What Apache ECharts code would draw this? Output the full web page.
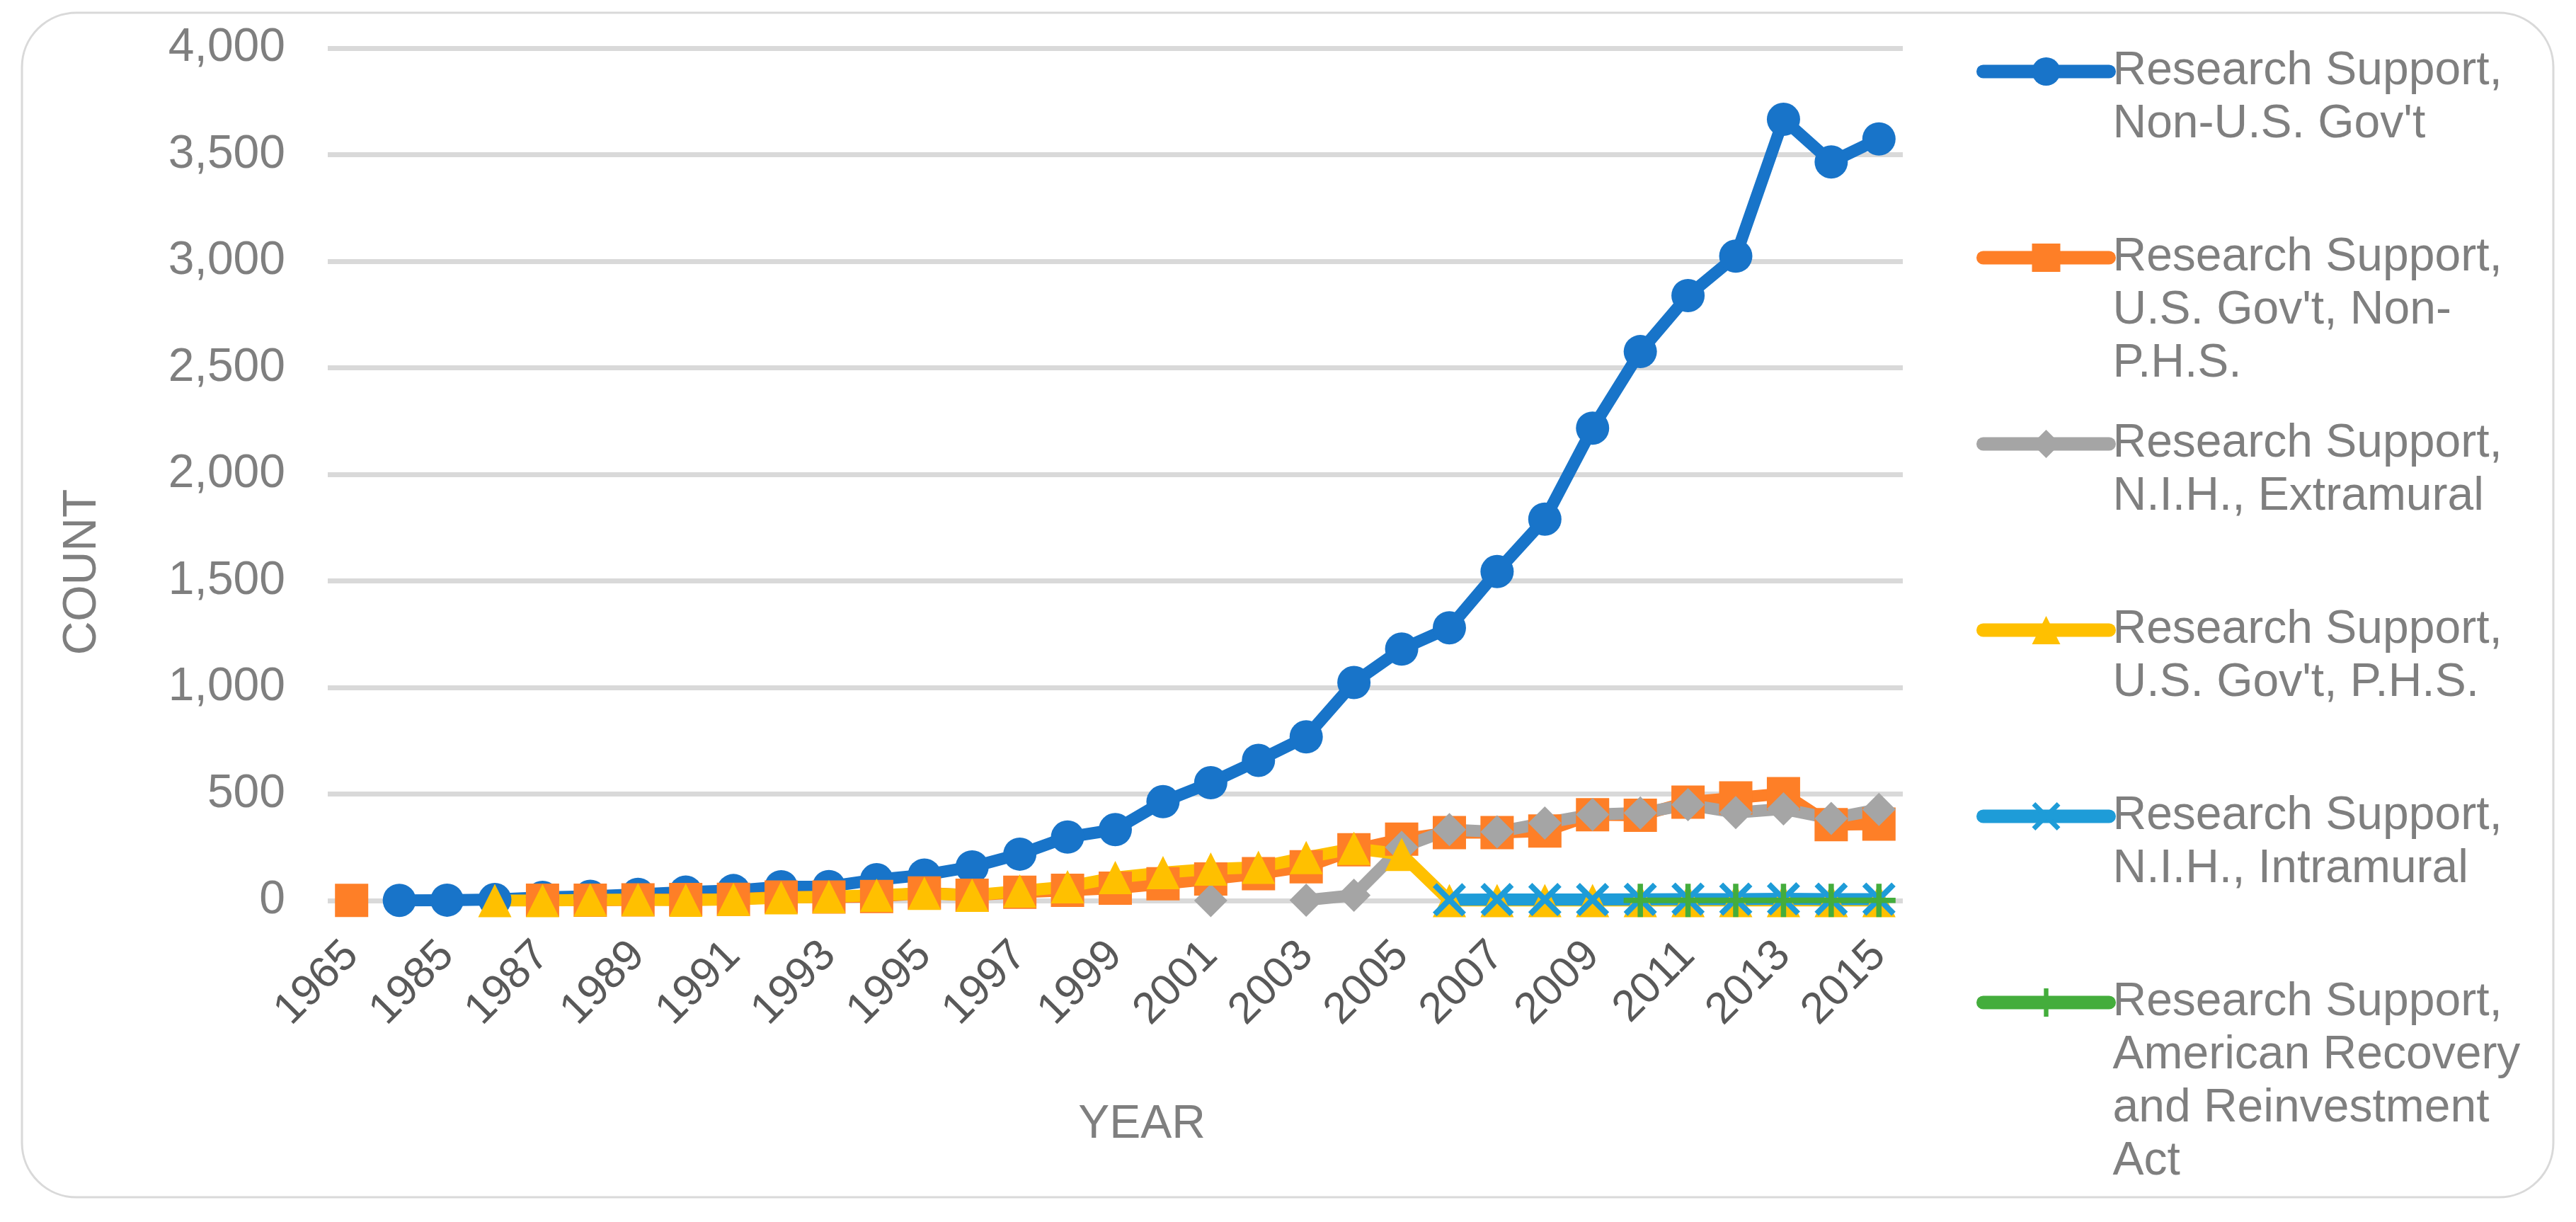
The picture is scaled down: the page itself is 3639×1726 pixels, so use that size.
<!DOCTYPE html>
<html>
<head>
<meta charset="utf-8">
<script src="https://cdn.jsdelivr.net/npm/echarts@6.0.0/dist/echarts.min.js"></script>
<style>
html,body{margin:0;padding:0;background:#fff;}
#chart{width:3639px;height:1726px;}
</style>
</head>
<body>
<div id="chart"></div>
<script>
// ---- data ----
const years = ['1965','1984','1985','1986','1987','1988','1989','1990','1991','1992','1993','1994','1995','1996','1997','1998','1999','2000','2001','2002','2003','2004','2005','2006','2007','2008','2009','2010','2011','2012','2013','2014','2015'];
const yTicks = [0, 500, 1000, 1500, 2000, 2500, 3000, 3500, 4000];
const nonUSGov = [null, 1, 2, 5, 15, 20, 29, 40, 47, 65, 66, 98, 120, 158, 218, 298, 333, 464, 553, 658, 768, 1023, 1180, 1280, 1544, 1790, 2217, 2576, 2839, 3024, 3666, 3466, 3574];
const usGovNonPHS = [1, null, null, null, 2, 2, 3, 5, 6, 17, 17, 19, 36, 25, 39, 48, 58, 79, 101, 126, 159, 238, 288, 319, 319, 326, 403, 400, 462, 482, 502, 356, 359];
const nihExtramural = [null, null, null, null, null, null, null, null, null, null, null, null, null, null, null, null, null, null, 0, null, 2, 25, 250, 333, 322, 364, 404, 411, 450, 413, 430, 385, 428];
const usGovPHS = [null, null, null, 0, 0, 3, 4, 2, 6, 13, 18, 25, 34, 25, 45, 65, 108, 131, 148, 156, 202, 245, 217, 0, 0, 0, 0, 0, 0, 0, 0, 0, 0];
const nihIntramural = [null, null, null, null, null, null, null, null, null, null, null, null, null, null, null, null, null, null, null, null, null, null, null, 4, 5, 5, 5, 6, 7, 7, 8, 7, 7];
const arra = [null, null, null, null, null, null, null, null, null, null, null, null, null, null, null, null, null, null, null, null, null, null, null, null, null, null, null, 1, 1, 1, 1, 1, 1];

const seriesNames = [
  "Research Support, Non-U.S. Gov't",
  "Research Support, U.S. Gov't, Non-P.H.S.",
  "Research Support, N.I.H., Extramural",
  "Research Support, U.S. Gov't, P.H.S.",
  "Research Support, N.I.H., Intramural",
  "Research Support, American Recovery and Reinvestment Act"
];
const legendLines = [
  ["Research Support,", "Non-U.S. Gov't"],
  ["Research Support,", "U.S. Gov't, Non-", "P.H.S."],
  ["Research Support,", "N.I.H., Extramural"],
  ["Research Support,", "U.S. Gov't, P.H.S."],
  ["Research Support,", "N.I.H., Intramural"],
  ["Research Support,", "American Recovery", "and Reinvestment", "Act"]
];
const seriesData = [nonUSGov, usGovNonPHS, nihExtramural, usGovPHS, nihIntramural, arra];

// ---- styles ----
const FONT = 'Liberation Sans, Arial, sans-serif';
const colors = ['#1874c9', '#fe7f27', '#a5a5a5', '#ffc000', '#1e9cd8', '#44ad3c'];
const xPath = 'path://M0,12 L12,0 L50,38 L88,0 L100,12 L62,50 L100,88 L88,100 L50,62 L12,100 L0,88 L38,50 Z';
const plusPath = 'path://M42,0 L58,0 L58,42 L100,42 L100,58 L58,58 L58,100 L42,100 L42,58 L0,58 L0,42 L42,42 Z';
const symbols = ['circle', 'rect', 'diamond', 'triangle', xPath, plusPath];
const lineWidths = [17, 17, 17, 17, 17, 8];

const series = seriesNames.map((name, i) => ({
  name: name,
  type: 'line',
  data: seriesData[i],
  symbol: symbols[i],
  symbolSize: 47,
  showAllSymbol: true,
  connectNulls: false,
  lineStyle: { width: lineWidths[i], color: colors[i], cap: 'round', join: 'round' },
  itemStyle: { color: colors[i], borderWidth: 0 },
  emphasis: { disabled: true },
  animation: false
}));

const LH = 75;
const legends = seriesNames.map((name, i) => {
  const n = legendLines[i].length;
  const iconY = 101 + 263 * i;
  const text = '\n'.repeat(n - 1) + legendLines[i].join('\n');
  return {
    data: [name],
    left: 2792,
    top: iconY - (2 * n - 1) * LH / 2,
    padding: 0,
    itemWidth: 178,
    itemHeight: 50,
    selectedMode: false,
    formatter: () => text,
    lineStyle: { width: 19, cap: 'round' },
    textStyle: { fontSize: 66, lineHeight: LH, color: '#7f7f7f', fontFamily: FONT }
  };
});

const chart = echarts.init(document.getElementById('chart'), null, { renderer: 'canvas' });
chart.setOption({
  animation: false,
  backgroundColor: '#ffffff',
  grid: { left: 463, right: 951, top: 68, bottom: 454, containLabel: false, outerBoundsMode: 'none' },
  legend: legends,
  xAxis: {
    type: 'category',
    data: years,
    boundaryGap: true,
    axisLine: { show: false },
    axisTick: { show: false },
    axisLabel: {
      interval: 1,
      rotate: 45,
      margin: 68,
      fontSize: 62,
      color: '#595959',
      fontFamily: FONT
    },
    splitLine: { show: false }
  },
  yAxis: {
    type: 'value',
    min: yTicks[0],
    max: yTicks[yTicks.length - 1],
    interval: 500,
    axisLine: { show: false },
    axisTick: { show: false },
    axisLabel: {
      margin: 60,
      fontSize: 66,
      color: '#7f7f7f',
      fontFamily: FONT,
      formatter: v => v.toLocaleString('en-US')
    },
    splitLine: { show: true, lineStyle: { color: '#d9d9d9', width: 7 } }
  },
  graphic: [
    {
      type: 'rect',
      silent: true,
      z: -10,
      shape: { x: 31, y: 18, width: 3576, height: 1673, r: 77 },
      style: { fill: 'none', stroke: '#d9d9d9', lineWidth: 3 }
    },
    {
      type: 'text',
      silent: true,
      x: 117,
      y: 808,
      rotation: Math.PI / 2,
      style: { text: 'COUNT', fontSize: 66, fontFamily: FONT, fill: '#7f7f7f', align: 'center', verticalAlign: 'middle' }
    },
    {
      type: 'text',
      silent: true,
      x: 1613,
      y: 1589,
      style: { text: 'YEAR', fontSize: 66, fontFamily: FONT, fill: '#7f7f7f', align: 'center', verticalAlign: 'middle' }
    }
  ],
  series: series
});
</script>
</body>
</html>
